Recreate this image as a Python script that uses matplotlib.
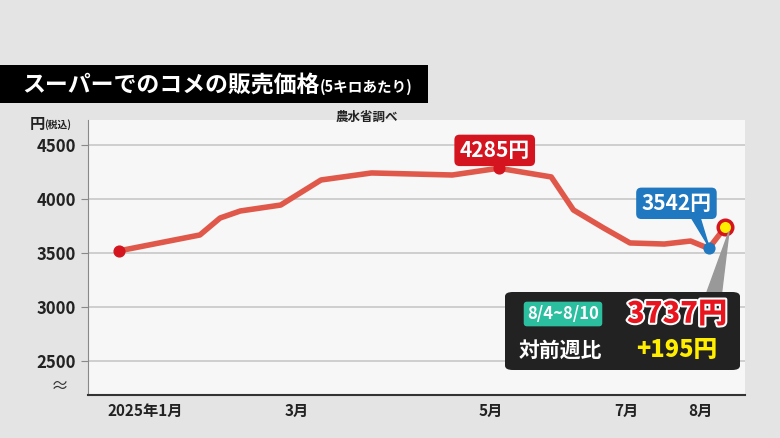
import matplotlib
matplotlib.use("Agg")
import matplotlib.pyplot as plt
from matplotlib.patches import FancyBboxPatch, Polygon
import matplotlib.patheffects as pe

plt.rcParams['font.family'] = ['Noto Sans CJK JP', 'DejaVu Sans']

weeks = [0, 4, 5, 6, 8, 10, 12.5, 16.5, 18.8, 21.4, 22.5, 24, 25.3, 27, 28.3, 29.2, 30]
prices = [3520, 3667, 3824, 3889, 3944, 4176, 4241, 4222, 4285, 4204, 3898, 3731, 3593, 3583, 3611, 3542, 3737]
tick_pos = [1.3, 8.8, 18.4, 25.1, 28.8]
tick_labels = ["2025年1月", "3月", "5月", "7月", "8月"]
yticks = [2500, 3000, 3500, 4000, 4500]

fig = plt.figure(figsize=(7.8, 4.38), dpi=100)
fig.patch.set_facecolor('#e4e4e4')
ax = fig.add_axes([0.113, 0.098, 0.842, 0.628])
ax.set_facecolor('#f7f7f7')
x0 = -(119-88)/20.2
x1 = (745-119)/20.2
ax.set_xlim(x0, x1)
ax.set_ylim(2185, 4731)
for v in yticks:
    ax.axhline(v, color='#c8c8c8', lw=1.2, zorder=1)
ax.plot(weeks, prices, color='#e0584a', lw=4, zorder=3, solid_capstyle='round', solid_joinstyle='round')
ax.scatter([weeks[0], weeks[8]], [prices[0], prices[8]], s=60, color='#d4141e', zorder=5)
ax.scatter([weeks[15]], [prices[15]], s=60, color='#1f78c0', zorder=5)
ax.scatter([weeks[16]], [prices[16]], s=110, color='#ffee00', edgecolor='#d4141e', linewidth=2.5, zorder=6)

for s in ['top', 'right']:
    ax.spines[s].set_visible(False)
ax.spines['left'].set_color('#888888')
ax.spines['bottom'].set_color('#333333')
ax.spines['bottom'].set_linewidth(1.5)
ax.set_yticks(yticks)
ax.set_yticklabels([str(v) for v in yticks], fontsize=12, fontweight='bold', color='#222222')
ax.set_xticks(tick_pos)
ax.set_xticklabels(tick_labels, fontsize=11, fontweight='bold', color='#222222')
ax.tick_params(axis='x', length=0, pad=6)
ax.tick_params(axis='y', length=5, color='#888888')
ax.text(-0.03, 0.03, "≈", transform=ax.transAxes, ha='right', va='center', fontsize=13, color='#333333')

# Title bar
fig.patches.append(FancyBboxPatch((0, 1-103/438), 428/780, 38/438, boxstyle='square,pad=0',
                                  transform=fig.transFigure, facecolor='black', edgecolor='none'))
fig.text(22/780, 1-85/438, "スーパーでのコメの販売価格", color='white', fontsize=16.5, fontweight='bold', va='center')
fig.text(320/780, 1-87/438, "(5キロあたり)", color='white', fontsize=10.5, fontweight='bold', va='center')
fig.text(30/780, 1-124/438, "円", fontsize=11, fontweight='bold', color='#222222', va='center')
fig.text(44/780, 1-125/438, "(税込)", fontsize=7, fontweight='bold', color='#222222', va='center')
fig.text(398/780, 1-117/438, "農水省調べ", fontsize=9, fontweight='bold', color='#222222', ha='right', va='center')

def lab(x, y, num, col, tipx, tipy, bx0, bx1):
    ax.text(x, y, num, ha='center', va='center', fontsize=15, fontweight='bold', color='white', zorder=8,
            bbox=dict(boxstyle='round,pad=0.25', facecolor=col, edgecolor='none'))
    ax.add_patch(Polygon([[bx0, y-90], [bx1, y-90], [tipx, tipy]], closed=True, color=col, zorder=7))

lab(18.6, 4450, "4285円", '#d4141e', weeks[8], prices[8]+20, 18.3, 19.0)
lab(27.6, 3960, "3542円", '#1f78c0', weeks[15], prices[15]+20, 28.2, 28.7)

# Info box
ax.add_patch(Polygon([[29.0, 3080], [29.8, 3080], [30.2, prices[16]-40]], closed=True, color='#999999', zorder=7))
fig.patches.append(FancyBboxPatch((505/780, 1-370/438), 235/780, 78/438, boxstyle='round,pad=0,rounding_size=0.01',
                                  transform=fig.transFigure, facecolor='#222222', edgecolor='none', zorder=9))
fig.text(563/780, 1-314/438, "8/4~8/10", fontsize=12, fontweight='bold', color='white', ha='center', va='center', zorder=10,
         bbox=dict(boxstyle='round,pad=0.2', facecolor='#2bbf9f', edgecolor='none'))
fig.text(677/780, 1-314/438, "3737円", fontsize=21, fontweight='heavy', color='#e8141e', ha='center', va='center', zorder=10,
         path_effects=[pe.withStroke(linewidth=3, foreground='white')])
fig.text(560/780, 1-350/438, "対前週比", fontsize=15, fontweight='bold', color='white', ha='center', va='center', zorder=10)
fig.text(677/780, 1-350/438, "+195円", fontsize=17, fontweight='heavy', color='#ffee00', ha='center', va='center', zorder=10)

fig.savefig("out.png", dpi=100, facecolor=fig.get_facecolor())
